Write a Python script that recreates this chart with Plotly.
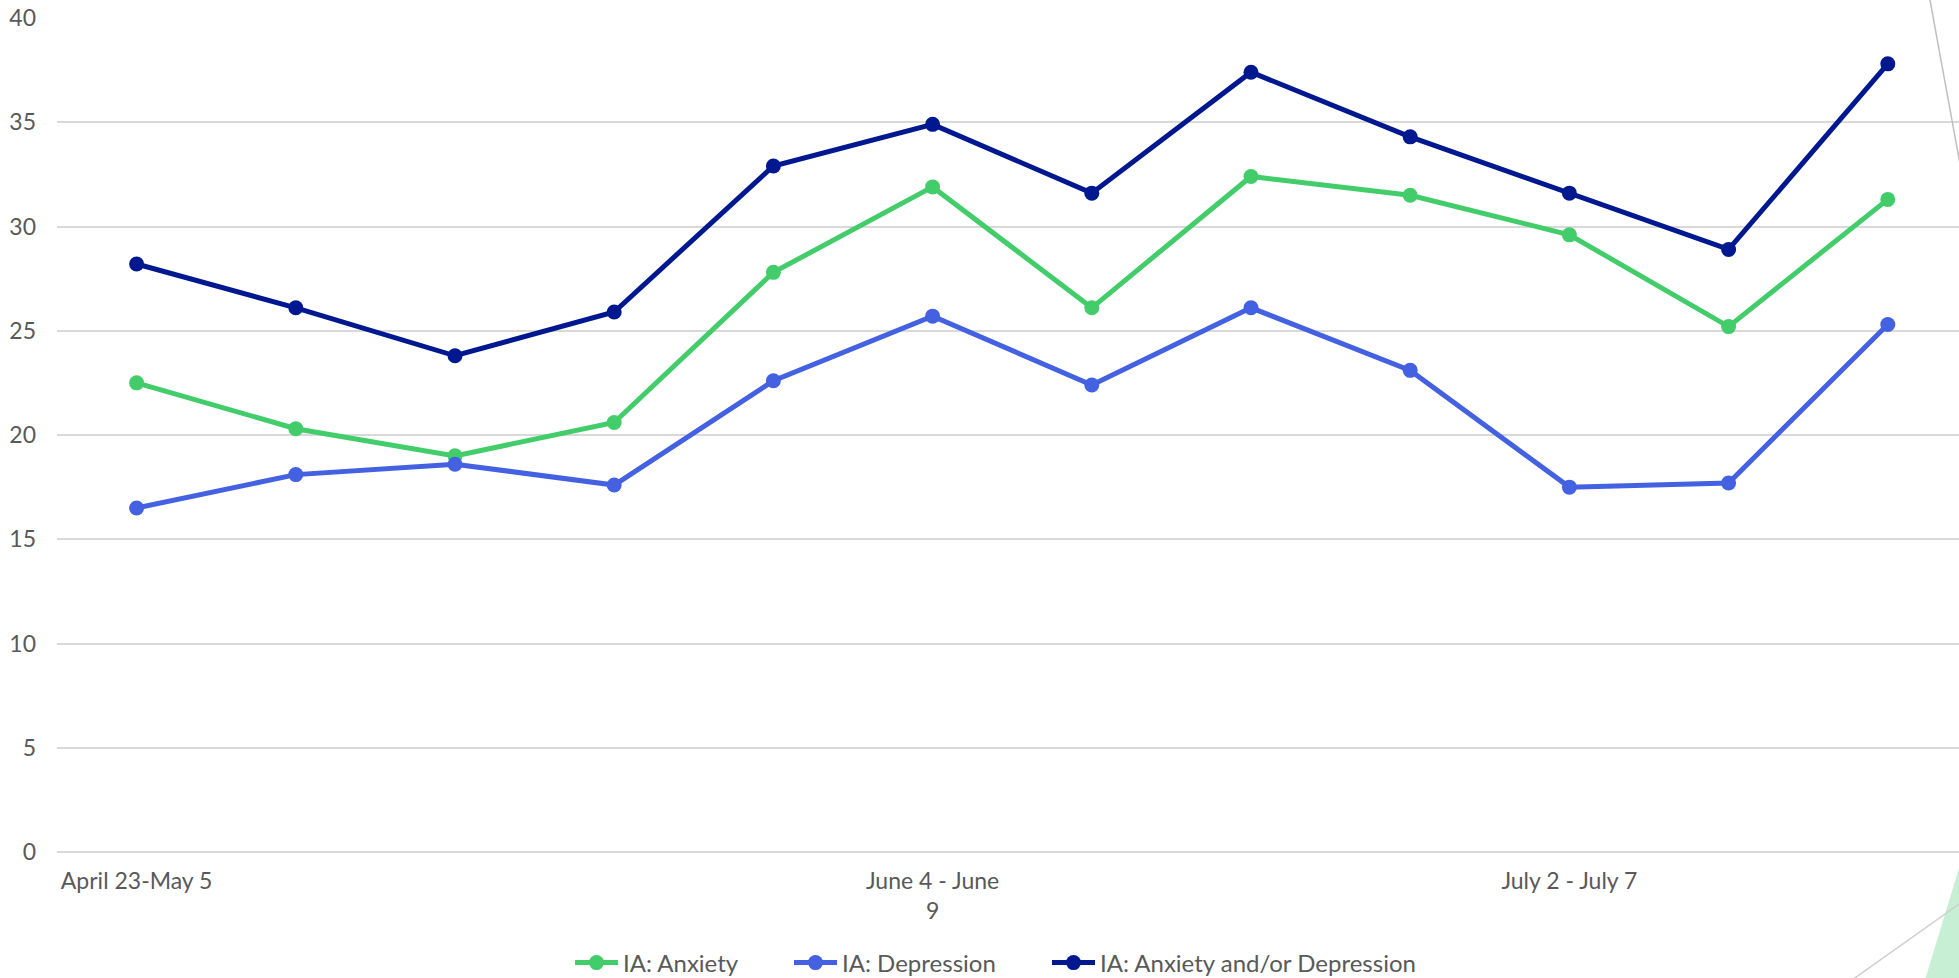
import plotly.graph_objects as go

# Survey weeks (12 collection periods); only some axis labels are shown
week_index = list(range(12))
tick_positions = [0, 5, 9]
tick_labels = ["April 23-May 5", "June 4 - June<br>9", "July 2 - July 7"]

anxiety = [22.5, 20.3, 19.0, 20.6, 27.8, 31.9, 26.1, 32.4, 31.5, 29.6, 25.2, 31.3]
depression = [16.5, 18.1, 18.6, 17.6, 22.6, 25.7, 22.4, 26.1, 23.1, 17.5, 17.7, 25.3]
anx_or_dep = [28.2, 26.1, 23.8, 25.9, 32.9, 34.9, 31.6, 37.4, 34.3, 31.6, 28.9, 37.8]

series = [
    ("IA: Anxiety", anxiety, "#43CD6A"),
    ("IA: Depression", depression, "#4361E0"),
    ("IA: Anxiety and/or Depression", anx_or_dep, "#00188F"),
]

W, H = 1959, 978
ML, MT, MB = 57, 18, 126
PLOT_W = W - ML
PLOT_H = H - MT - MB
CAT_W = 159.2

FONT = "Lato, 'Open Sans', sans-serif"
TEXT = "#595959"


def px(x, y):
    """Convert page pixel coordinates to paper coordinates."""
    return (x - ML) / PLOT_W, (H - MB - y) / PLOT_H


fig = go.Figure()
legend_ids = ["legend", "legend2", "legend3"]
for (name, vals, col), lid in zip(series, legend_ids):
    fig.add_trace(go.Scatter(
        x=week_index, y=vals, name=name, mode="lines+markers",
        line=dict(color=col, width=5),
        marker=dict(color=col, size=15),
        legend=lid,
    ))

# decorative slide accents at the right edge
x0, y0 = px(1930, 0)
x1, y1 = px(1962, 175)
x2, y2 = px(1852, 980)
x3, y3 = px(1962, 902)
gx0, gy0 = px(1925, 980)
gx1, gy1 = px(1962, 858)
gx2, gy2 = px(1962, 980)

shapes = [
    dict(type="line", xref="paper", yref="paper", x0=x0, y0=y0, x1=x1, y1=y1,
         line=dict(color="#BFBFBF", width=1.5)),
    dict(type="path", xref="paper", yref="paper",
         path=f"M {gx0} {gy0} L {gx1} {gy1} L {gx2} {gy2} Z",
         fillcolor="#C6EFD3", line=dict(width=0), layer="below"),
    dict(type="line", xref="paper", yref="paper", x0=x2, y0=y2, x1=x3, y1=y3,
         line=dict(color="#CFCFCF", width=1.5)),
]

# one legend box per series so the entries can be spaced freely
legend_left_px = [570, 789, 1047]
legends = {}
for lid, lx in zip(legend_ids, legend_left_px):
    legends[lid] = dict(
        orientation="h", xref="container", yref="container",
        x=lx / W, xanchor="left", y=1 - 963 / H, yanchor="middle",
        font=dict(family=FONT, size=24, color=TEXT),
        bgcolor="rgba(0,0,0,0)", borderwidth=0, itemwidth=43,
    )

fig.update_layout(
    width=W, height=H,
    margin=dict(l=ML, r=0, t=MT, b=MB, pad=0),
    paper_bgcolor="white", plot_bgcolor="white",
    font=dict(family=FONT, size=23, color=TEXT),
    shapes=shapes,
    showlegend=True,
    **legends,
    xaxis=dict(
        range=[-0.5, -0.5 + PLOT_W / CAT_W], automargin=False,
        tickmode="array", tickvals=tick_positions, ticktext=tick_labels,
        showgrid=False, zeroline=False, showline=False,
        ticks="", ticklabelstandoff=13,
        tickfont=dict(family=FONT, size=23, color=TEXT),
    ),
    yaxis=dict(
        range=[0, 40], automargin=False,
        tickmode="array", tickvals=list(range(0, 41, 5)),
        showgrid=True, gridcolor="#D9D9D9", gridwidth=2,
        zeroline=True, zerolinecolor="#D9D9D9", zerolinewidth=2,
        showline=False, ticks="", ticklabelstandoff=20,
        tickfont=dict(family=FONT, size=23, color=TEXT),
    ),
)

fig.write_html("out.html")
